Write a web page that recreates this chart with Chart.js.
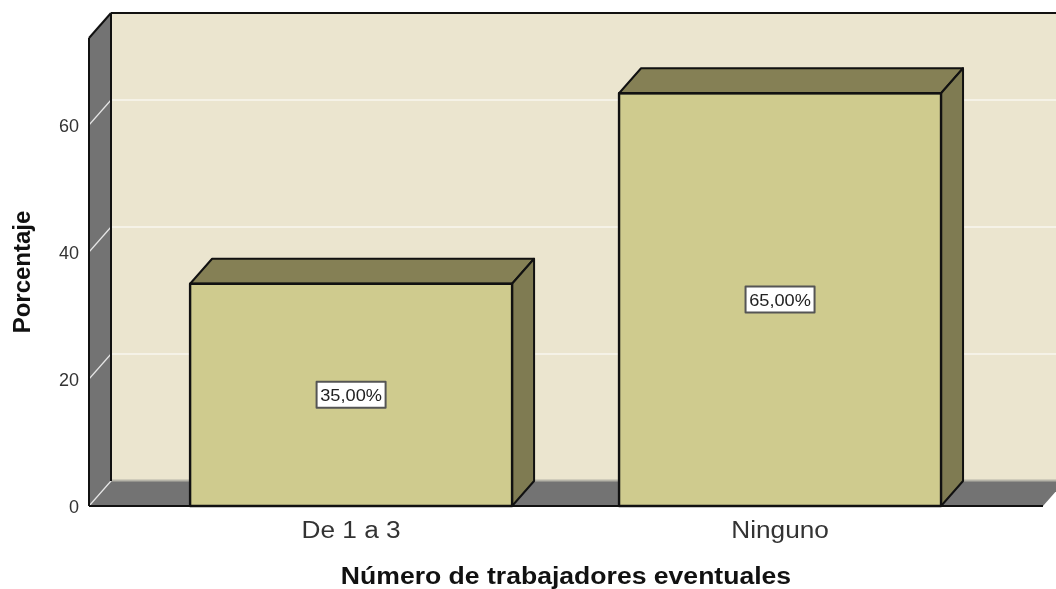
<!DOCTYPE html>
<html>
<head>
<meta charset="utf-8">
<style>
  html, body { margin: 0; padding: 0; background: #fff; }
  #wrap { width: 1056px; height: 589px; }
</style>
<script src="https://cdn.jsdelivr.net/npm/chart.js@4"></script>
</head>
<body>
<div id="wrap"><canvas id="myChart"></canvas></div>
<script>
// Chart data
var categories = ['De 1 a 3', 'Ninguno'];
var percentages = [35, 65];
var barLabels = ['35,00%', '65,00%'];
var yTicks = [0, 20, 40, 60];

var xTitle = 'Número de trabajadores eventuales';
var yTitle = 'Porcentaje';

// Depth of the fake 3D box, in pixels
var DX = 22;
var DY = -25;

var FONT = '"Liberation Sans", Arial, sans-serif';

function poly(ctx, pts, fill, stroke, width) {
  ctx.beginPath();
  ctx.moveTo(pts[0][0], pts[0][1]);
  for (var i = 1; i < pts.length; i++) ctx.lineTo(pts[i][0], pts[i][1]);
  ctx.closePath();
  if (fill) { ctx.fillStyle = fill; ctx.fill(); }
  if (stroke) { ctx.strokeStyle = stroke; ctx.lineWidth = width; ctx.stroke(); }
}

function line(ctx, x1, y1, x2, y2, color, width) {
  ctx.beginPath();
  ctx.moveTo(x1, y1);
  ctx.lineTo(x2, y2);
  ctx.strokeStyle = color;
  ctx.lineWidth = width;
  ctx.stroke();
}

// The source picture is stretched sideways, so its text is wider than it is tall
function wideText(ctx, text, x, y, font, color, stretch) {
  ctx.save();
  ctx.translate(x, y);
  ctx.scale(stretch, 1);
  ctx.font = font;
  ctx.fillStyle = color;
  ctx.textAlign = 'center';
  ctx.textBaseline = 'alphabetic';
  ctx.fillText(text, 0, 0);
  ctx.restore();
}

// Back wall, side wall, floor and the gridlines running over them
var boxPlugin = {
  id: 'box3d',
  beforeDatasetsDraw: function (chart) {
    var ctx = chart.ctx, a = chart.chartArea, y = chart.scales.y;
    var l = a.left, r = a.right, t = a.top, b = a.bottom;
    ctx.save();
    poly(ctx, [[l + DX, t + DY], [chart.width, t + DY], [chart.width, b + DY], [l + DX, b + DY]], '#ebe5cf');
    poly(ctx, [[l, t], [l + DX, t + DY], [l + DX, b + DY], [l, b]], '#737373');
    poly(ctx, [[l, b], [l + DX, b + DY], [r + DX, b + DY], [r, b]], '#737373');
    line(ctx, l + DX, b + DY - 0.5, chart.width, b + DY - 0.5, '#b5b3a8', 2);

    yTicks.forEach(function (v) {
      var py = y.getPixelForValue(v);
      line(ctx, l, py, l + DX, py + DY, '#e6e6e6', 1.2);
      if (v > 0) line(ctx, l + DX, py + DY, chart.width, py + DY, '#ffffff', 1.2);
    });

    line(ctx, l + DX, t + DY, chart.width, t + DY, '#111', 2);
    line(ctx, l + DX, t + DY, l + DX, b + DY, '#111', 2);
    line(ctx, l, t, l + DX, t + DY, '#111', 2);
    line(ctx, l, t, l, b, '#111', 2);
    line(ctx, l, b, r, b, '#111', 2);
    ctx.restore();
  }
};

// Top and side faces of each bar, the outline, then the value boxes on the front
var barPlugin = {
  id: 'bar3d',
  afterDatasetsDraw: function (chart) {
    var ctx = chart.ctx;
    var meta = chart.getDatasetMeta(0);
    ctx.save();
    meta.data.forEach(function (bar, i) {
      var half = bar.width / 2;
      var x1 = bar.x - half, x2 = bar.x + half;
      var top = bar.y, bottom = bar.base;
      ctx.lineJoin = 'round';
      poly(ctx, [[x1, top], [x1 + DX, top + DY], [x2 + DX, top + DY], [x2, top]], '#858055', '#111', 2);
      poly(ctx, [[x2, top], [x2 + DX, top + DY], [x2 + DX, bottom + DY], [x2, bottom]], '#7f7b52', '#111', 2);
      poly(ctx, [[x1, top], [x2, top], [x2, bottom], [x1, bottom]], null, '#111', 2.4);

      var cy = (top + bottom) / 2;
      var w = 69, h = 26;
      ctx.fillStyle = '#fff';
      ctx.fillRect(bar.x - w / 2, cy - h / 2, w, h);
      ctx.strokeStyle = '#555';
      ctx.lineWidth = 2;
      ctx.strokeRect(bar.x - w / 2, cy - h / 2, w, h);
      wideText(ctx, barLabels[i], bar.x, cy + 6, '17px ' + FONT, '#222', 1.07);
    });
    ctx.restore();
  }
};

// Category names and the x title, placed from the scale
var xLabelPlugin = {
  id: 'xLabels',
  afterDraw: function (chart) {
    var ctx = chart.ctx, x = chart.scales.x, a = chart.chartArea;
    categories.forEach(function (c, i) {
      wideText(ctx, c, x.getPixelForValue(i), a.bottom + 32, '23px ' + FONT, '#333', 1.14);
    });
    wideText(ctx, xTitle, (a.left + a.right) / 2, a.bottom + 78, 'bold 23px ' + FONT, '#111', 1.155);
  }
};

var ctx = document.getElementById('myChart').getContext('2d');
var myChart = new Chart(ctx, {
  type: 'bar',
  data: {
    datasets: [{
      data: percentages.map(function (v, i) { return { x: i, y: v }; }),
      backgroundColor: '#cfcb8e',
      borderWidth: 0,
      barPercentage: 0.7506,
      categoryPercentage: 1
    }]
  },
  plugins: [boxPlugin, barPlugin, xLabelPlugin],
  options: {
    responsive: true,
    maintainAspectRatio: false,
    animation: false,
    layout: { padding: { top: 38, right: 13, left: 0, bottom: 0 } },
    plugins: { legend: { display: false }, tooltip: { enabled: false } },
    scales: {
      x: {
        type: 'linear',
        offset: false,
        min: -0.611,
        max: 1.613,
        afterBuildTicks: function (scale) {
          scale.ticks = categories.map(function (c, i) { return { value: i }; });
        },
        afterFit: function (scale) { scale.height = 83; },
        border: { display: false },
        grid: { display: false, drawTicks: false },
        ticks: { display: false }
      },
      y: {
        min: 0,
        max: 73.7,
        afterBuildTicks: function (scale) {
          scale.ticks = yTicks.map(function (v) { return { value: v }; });
        },
        afterFit: function (scale) { scale.width = 89; },
        border: { display: false },
        grid: { display: false, drawTicks: false },
        ticks: {
          padding: 10,
          labelOffset: 2,
          color: '#333',
          font: { family: FONT, size: 18 }
        },
        title: {
          display: true,
          text: yTitle,
          color: '#111',
          font: { family: FONT, size: 24, weight: 'bold' },
          padding: { top: 9, bottom: 0 }
        }
      }
    }
  }
});
</script>
</body>
</html>
